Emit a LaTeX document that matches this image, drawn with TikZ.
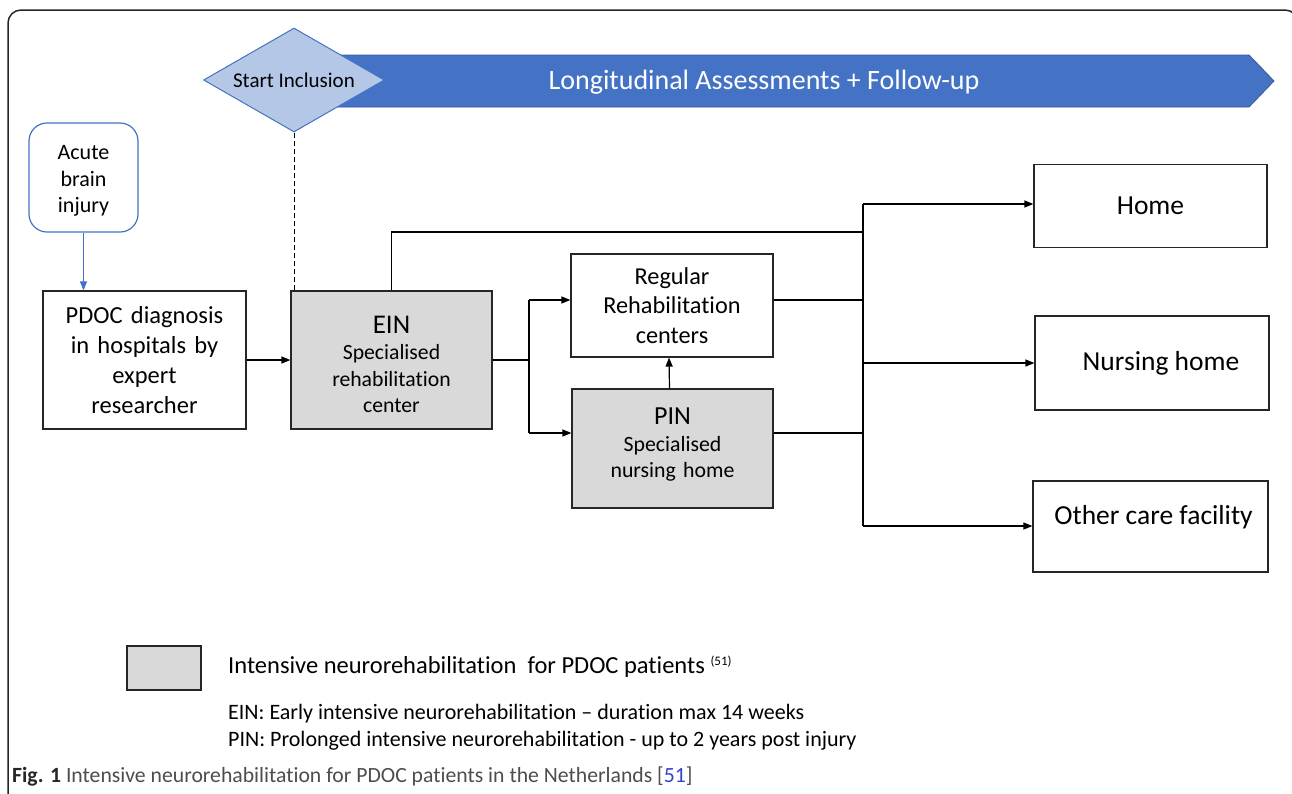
\documentclass[tikz,border=0pt]{standalone}
\usepackage{fontspec}
\setmainfont{Carlito}[Ligatures=NoCommon]
\usetikzlibrary{shapes.geometric,arrows.meta}
\definecolor{officeblue}{HTML}{4472C4}
\definecolor{lightblue}{HTML}{B4C7E7}
\definecolor{boxgrey}{HTML}{D9D9D9}
\definecolor{edgegrey}{HTML}{262626}
\definecolor{capgrey}{HTML}{4D4D4D}
\definecolor{reflink}{HTML}{3344CC}
\newcommand{\fsz}[1]{\fontsize{#1}{1.22\dimexpr #1pt\relax}\selectfont}
\tikzset{
  flowbox/.style={draw=edgegrey, line width=1.2pt, align=center, inner sep=0pt, text=black},
  greybox/.style={flowbox, fill=boxgrey},
  conn/.style={draw=black, line width=1.2pt},
  arr/.style={conn, -{Triangle[length=9pt,width=7pt]}},
}
\begin{document}
\begin{tikzpicture}[x=1pt,y=-1pt]
\useasboundingbox (0,0) rectangle (1292,793);
\fill[white] (0,0) rectangle (1292,793);
% outer frame
\draw[edgegrey, line width=1.5pt, rounded corners=13pt] (8,810) -- (8,10) -- (1298,10) -- (1298,810);

% banner
\draw[officeblue!80!black, line width=0.8pt, fill=officeblue] (294,55) -- (1249,55) -- (1274,81) -- (1249,107) -- (294,107) -- cycle;
\node[text=white, font=\fsz{28}] (bannertxt) at (764,82) {Longitudinal Assessments + Follow-up};

% diamond
\node[diamond, shape aspect=1.74, draw=officeblue, line width=1pt, fill=lightblue,
      minimum width=181pt, minimum height=104pt, inner sep=0pt, font=\fsz{21}] (start) at (294,80) {Start Inclusion};

% boxes
\node[flowbox, draw=officeblue, rounded corners=18pt, minimum width=109pt, minimum height=109pt, font=\fsz{22}, text width=100pt] (acute) at (83.5,177.5) {\\[-6pt]Acute\\brain\\injury};
\node[flowbox, minimum width=203pt, minimum height=138pt, text width=190pt, font=\fsz{24.5}] (pdoc) at (144.5,360) {PDOC diagnosis\\in hospitals by\\expert\\researcher};
\node[greybox, minimum width=201pt, minimum height=138pt, text width=190pt, font=\fsz{21.7}] (ein) at (391.5,360) {{\fsz{27}\rule{0pt}{26pt}EIN}\\Specialised\\rehabilitation\\center};
\node[flowbox, minimum width=202pt, minimum height=103pt, text width=190pt, font=\fsz{24.3}] (reg) at (672,305.5) {Regular\\Rehabilitation\\centers};
\node[greybox, minimum width=201pt, minimum height=119pt, text width=190pt, font=\fsz{21.8}] (pin) at (672.5,448.5) {{\fsz{26}PIN}\\Specialised\\nursing home\rule[-11.5pt]{0pt}{1pt}};
\node[flowbox, minimum width=233pt, minimum height=83pt, font=\fsz{27.5}] (home) at (1150.5,206) {Home};
\node[flowbox, minimum width=234pt, minimum height=94pt, font=\fsz{27.5}] (nurs) at (1152,363) {\hspace*{18pt}Nursing home};
\node[flowbox, minimum width=235pt, minimum height=91pt, font=\fsz{27.5}, text depth=24pt] (other) at (1150.5,526.5) {\hspace*{6pt}Other care facility};

% coordinates for bus lines
\coordinate (bus1) at (863,204);
\coordinate (bus2) at (863,526);
\coordinate (f1) at (529,300);
\coordinate (f2) at (529,433);
\coordinate (ntop) at (863,232);

% connectors
\draw[arr, draw=officeblue, line width=1pt] (acute.south) -- (acute.south |- pdoc.north);
\draw[arr] (pdoc.east) -- (ein.west);
\draw[draw=black, line width=1pt, dash pattern=on 5pt off 3pt] (start.south) -- (start.south |- ein.north);
\draw[conn] (ein.north) |- (ntop);
\draw[conn] (bus1) -- (bus2);
\draw[arr] (bus1) -- (bus1 -| home.west);
\draw[arr] (bus1 |- nurs.west) -- (nurs.west);
\draw[arr] (bus2) -- (bus2 -| other.west);
\draw[conn] (ein.east) -- (ein.east -| f1);
\draw[conn] (f1) -- (f2);
\draw[arr] (f1) -- (f1 -| reg.west);
\draw[arr] (f2) -- (f2 -| pin.west);
\draw[arr] ([xshift=-3pt]pin.north) -- ([xshift=-3pt]reg.south);
\draw[conn] (f1 -| reg.east) -- (f1 -| bus1);
\draw[conn] (f2 -| pin.east) -- (f2 -| bus1);

% legend
\node[greybox, minimum width=74pt, minimum height=44pt] (legbox) at (164,668) {};
\node[anchor=west, inner sep=0pt, font=\fsz{24.5}] (legtxt) at (228,667) {Intensive neurorehabilitation\ \ for PDOC patients \raisebox{8pt}{\fsz{13}(51)}};
\node[anchor=west, inner sep=0pt, font=\fsz{22}] (einnote) at (228,714) {EIN: Early intensive neurorehabilitation – duration max 14 weeks};
\node[anchor=west, inner sep=0pt, font=\fsz{22}] (pinnote) at (228,741) {PIN: Prolonged intensive neurorehabilitation - up to 2 years post injury};
\node[anchor=west, inner sep=0pt, font=\fsz{21.7}, text=capgrey] (caption) at (12,776) {\textcolor{black!85}{\textbf{Fig. 1}} Intensive neurorehabilitation for PDOC patients in the Netherlands [\textcolor{reflink}{51}]};
\end{tikzpicture}
\end{document}
